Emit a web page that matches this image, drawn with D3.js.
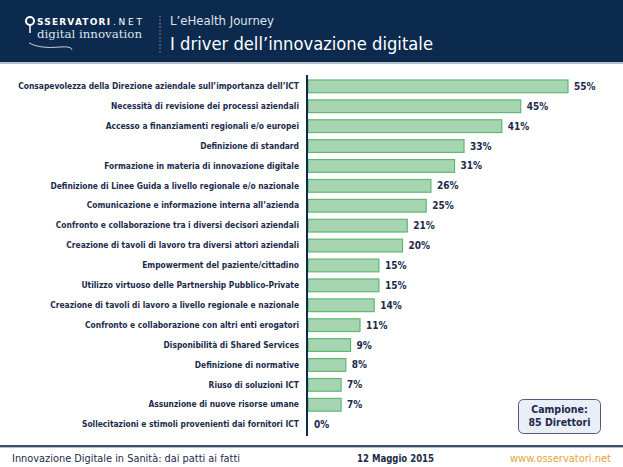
<!DOCTYPE html>
<html><head><meta charset="utf-8">
<script src="https://cdn.jsdelivr.net/npm/d3@7"></script>
<style>body{margin:0;background:#fff}svg{display:block}</style>
</head><body>
<script>
const categories = [
 "Consapevolezza della Direzione aziendale sull’importanza dell’ICT",
 "Necessità di revisione dei processi aziendali",
 "Accesso a finanziamenti regionali e/o europei",
 "Definizione di standard",
 "Formazione in materia di innovazione digitale",
 "Definizione di Linee Guida a livello regionale e/o nazionale",
 "Comunicazione e informazione interna all’azienda",
 "Confronto e collaborazione tra i diversi decisori aziendali",
 "Creazione di tavoli di lavoro tra diversi attori aziendali",
 "Empowerment del paziente/cittadino",
 "Utilizzo virtuoso delle Partnership Pubblico-Private",
 "Creazione di tavoli di lavoro a livello regionale e nazionale",
 "Confronto e collaborazione con altri enti erogatori",
 "Disponibilità di Shared Services",
 "Definizione di normative",
 "Riuso di soluzioni ICT",
 "Assunzione di nuove risorse umane",
 "Sollecitazioni e stimoli provenienti dai fornitori ICT"
];
const values = [55,45,41,33,31,26,25,21,20,15,15,14,11,9,8,7,7,0];
const valueLabels = ["55%","45%","41%","33%","31%","26%","25%","21%","20%","15%","15%","14%","11%","9%","8%","7%","7%","0%"];

const W=623,H=467;
const svg=d3.select("body").append("svg").attr("width",W).attr("height",H);
const navy="#0c2a4e", txt="#1b2b4b";
const font="'DejaVu Sans Condensed','DejaVu Sans',sans-serif";

// header
svg.append("rect").attr("x",0).attr("y",0).attr("width",W).attr("height",62).attr("fill",navy);
svg.append("rect").attr("x",0).attr("y",62).attr("width",W).attr("height",2).attr("fill","#b9bfc8");
// logo
const lg=svg.append("g");
lg.append("circle").attr("cx",30).attr("cy",21).attr("r",4).attr("fill","none").attr("stroke","#fff").attr("stroke-width",2);
lg.append("line").attr("x1",30).attr("y1",25).attr("x2",30).attr("y2",33).attr("stroke","#fff").attr("stroke-width",1.5);
lg.append("text").attr("x",37).attr("y",25).attr("fill","#fff").attr("font-family","'DejaVu Sans',sans-serif").attr("font-weight","bold").attr("font-size",9).attr("textLength",73).attr("lengthAdjust","spacing").text("SSERVATORI");
lg.append("text").attr("x",113).attr("y",25).attr("fill","#fff").attr("font-family","'DejaVu Sans',sans-serif").attr("font-size",9).attr("textLength",29).attr("lengthAdjust","spacing").text(".NET");
lg.append("text").attr("x",37).attr("y",38).attr("fill","#dfe4ec").attr("font-family","'DejaVu Serif',serif").attr("font-size",11.5).attr("textLength",105).attr("lengthAdjust","spacingAndGlyphs").text("digital innovation");
lg.append("path").attr("d","M29,43 Q40,49 60,47 Q72,46 72,50").attr("fill","none").attr("stroke","#c9ced8").attr("stroke-width",1);
svg.append("line").attr("x1",160).attr("y1",16).attr("x2",160).attr("y2",54).attr("stroke","#8a96a8").attr("stroke-dasharray","1.5,2");
svg.append("text").attr("x",170).attr("y",25).attr("fill","#dfe3ea").attr("font-family","'DejaVu Sans',sans-serif").attr("font-size",12).attr("textLength",104).attr("lengthAdjust","spacingAndGlyphs").text("L’eHealth Journey");
svg.append("text").attr("x",170).attr("y",50).attr("fill","#fff").attr("font-family",font).attr("font-size",18).attr("textLength",263).attr("lengthAdjust","spacingAndGlyphs").text("I driver dell’innovazione digitale");

// scales
const x=d3.scaleLinear().domain([0,55]).range([308,568]);
const y=d3.scaleBand().domain(categories).range([76,435]).paddingInner(0.36).paddingOuter(0.2);

const g=svg.append("g");
g.selectAll("rect.bar").data(values).join("rect").attr("class","bar")
 .attr("x",x(0)).attr("y",(d,i)=>y(categories[i]))
 .attr("width",d=>Math.max(0,x(d)-x(0))).attr("height",y.bandwidth())
 .attr("fill",d=>d>0?"#a7d4b1":"none").attr("stroke",d=>d>0?"#5fb872":"none").attr("stroke-width",1.2);
g.selectAll("text.val").data(values).join("text").attr("class","val")
 .attr("x",d=>x(d)+6).attr("y",(d,i)=>y(categories[i])+y.bandwidth()/2+3.5)
 .attr("fill",txt).attr("font-family",font).attr("font-weight","bold").attr("font-size",10)
 .text((d,i)=>valueLabels[i]);

const yAxis=d3.axisLeft(y).tickSize(0).tickPadding(8);
const ax=svg.append("g").attr("transform",`translate(${x(0)-1},0)`).call(yAxis);
ax.select(".domain").remove();
ax.selectAll("text").attr("fill",txt).attr("font-family",font).attr("font-weight","bold").attr("font-size",10);
// fit the longest label to the reference width
let maxW=0; ax.selectAll("text").each(function(){maxW=Math.max(maxW,this.getComputedTextLength());});
const fs=10*281/maxW;
ax.selectAll("text").attr("font-size",fs);
svg.append("line").attr("x1",x(0)-1).attr("x2",x(0)-1).attr("y1",75).attr("y2",436).attr("stroke",navy).attr("stroke-width",2);

// sample box
svg.append("rect").attr("x",518.5).attr("y",399.5).attr("width",82).attr("height",34).attr("rx",5)
 .attr("fill","#e9eef8").attr("stroke","#4d5d78").attr("stroke-width",1);
svg.append("text").attr("x",559.5).attr("y",413).attr("text-anchor","middle").attr("fill",txt).attr("font-family",font).attr("font-weight","bold").attr("font-size",10.5).text("Campione:");
svg.append("text").attr("x",559.5).attr("y",426).attr("text-anchor","middle").attr("fill",txt).attr("font-family",font).attr("font-weight","bold").attr("font-size",10.5).text("85 Direttori");

// footer
svg.append("rect").attr("x",0).attr("y",445).attr("width",W).attr("height",2).attr("fill","#3c4e6c");
svg.append("rect").attr("x",0).attr("y",447).attr("width",W).attr("height",1).attr("fill","#b7bfcb");
svg.append("text").attr("x",12).attr("y",462).attr("fill",txt).attr("font-family",font).attr("font-size",11).attr("textLength",228).attr("lengthAdjust","spacingAndGlyphs").text("Innovazione Digitale in Sanità: dai patti ai fatti");
svg.append("text").attr("x",357).attr("y",462).attr("fill",txt).attr("font-family",font).attr("font-weight","bold").attr("font-size",11).attr("textLength",77).attr("lengthAdjust","spacingAndGlyphs").text("12 Maggio 2015");
svg.append("text").attr("x",611).attr("y",462).attr("text-anchor","end").attr("fill","#e8a236").attr("font-family",font).attr("font-size",11).text("www.osservatori.net");
</script>
</body></html>
